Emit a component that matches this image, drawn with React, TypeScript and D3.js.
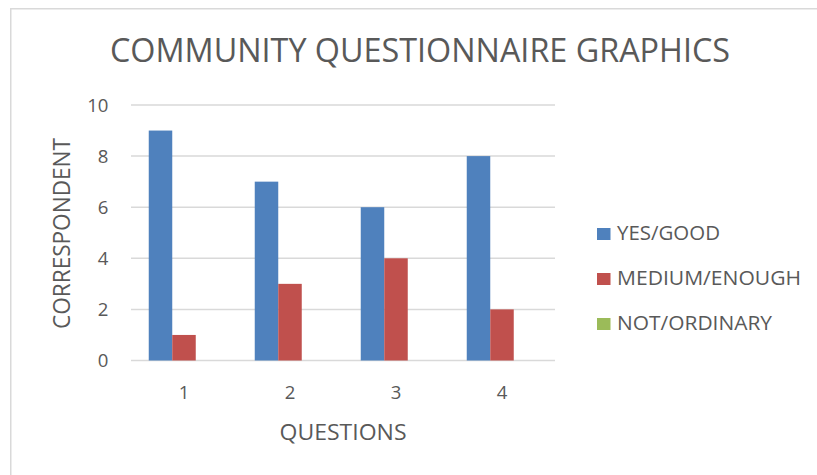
import React from "react";
import { scaleBand, scaleLinear } from "d3";

const categories = ["1", "2", "3", "4"];
const seriesNames = ["YES/GOOD", "MEDIUM/ENOUGH", "NOT/ORDINARY"];
const yesGood = [9, 7, 6, 8];
const mediumEnough = [1, 3, 4, 2];
const notOrdinary = [0, 0, 0, 0];
const yTicks = [0, 2, 4, 6, 8, 10];

const seriesValues = [yesGood, mediumEnough, notOrdinary];
const colors = ["#4F81BD", "#C0504D", "#9BBB59"];
const legendWidths = [103, 184, 155];

const W = 817;
const H = 475;
const font = "'Open Sans', 'Noto Sans', sans-serif";
const textColor = "#595959";

const App: React.FC = () => {
  const x0 = scaleBand<string>().domain(categories).range([131, 555]).padding(0);
  const x1 = scaleBand<string>()
    .domain(seriesNames)
    .range([0, x0.bandwidth()])
    .paddingInner(0)
    .paddingOuter(0.755);
  const y = scaleLinear().domain([0, 10]).range([360.5, 105]);

  return (
    <div style={{ position: "absolute", left: 0, top: 0 }}>
      <svg width={W} height={H} style={{ display: "block", background: "#fff" }}>
        {/* chart border, only left and top visible in the crop */}
        <rect x={10.75} y={8.75} width={W + 20} height={H + 20} fill="#fff" stroke="#D9D9D9" strokeWidth={1.5} />

        <text
          x={420}
          y={61.5}
          textAnchor="middle"
          fontFamily={font}
          fontSize={32.5}
          fill={textColor}
          textLength={620}
          lengthAdjust="spacingAndGlyphs"
        >
          COMMUNITY QUESTIONNAIRE GRAPHICS
        </text>

        {/* gridlines */}
        {yTicks.map((t) => (
          <line key={t} x1={131} x2={555} y1={y(t)} y2={y(t)} stroke="#D9D9D9" strokeWidth={1.5} />
        ))}

        {/* y tick labels */}
        {yTicks.map((t) => (
          <text
            key={t}
            x={108.5}
            y={y(t) + 6.7}
            textAnchor="end"
            fontFamily={font}
            fontSize={18.6}
            fill={textColor}
          >
            {t}
          </text>
        ))}

        {/* bars */}
        {categories.map((c, i) => (
          <g key={c} transform={`translate(${x0(c)},0)`}>
            {seriesNames.map((s, k) => {
              const v = seriesValues[k][i];
              return (
                <rect
                  key={s}
                  x={x1(s)}
                  y={y(v)}
                  width={x1.bandwidth()}
                  height={y(0) - y(v)}
                  fill={colors[k]}
                />
              );
            })}
          </g>
        ))}

        {/* x tick labels */}
        {categories.map((c) => (
          <text
            key={c}
            x={(x0(c) ?? 0) + x0.bandwidth() / 2}
            y={398.5}
            textAnchor="middle"
            fontFamily={font}
            fontSize={18.6}
            fill={textColor}
          >
            {c}
          </text>
        ))}

        <text
          x={343}
          y={439.5}
          textAnchor="middle"
          fontFamily={font}
          fontSize={22.5}
          fill={textColor}
          textLength={127}
          lengthAdjust="spacingAndGlyphs"
        >
          QUESTIONS
        </text>

        <text
          transform="translate(70,233.5) rotate(-90)"
          textAnchor="middle"
          fontFamily={font}
          fontSize={23.5}
          fill={textColor}
          textLength={191}
          lengthAdjust="spacingAndGlyphs"
        >
          CORRESPONDENT
        </text>

        {/* legend */}
        {seriesNames.map((s, k) => (
          <g key={s} transform={`translate(597,${240 + k * 45})`}>
            <rect x={0} y={-12} width={13.5} height={12} fill={colors[k]} />
            <text
              x={20}
              y={0}
              fontFamily={font}
              fontSize={19.6}
              fill={textColor}
              textLength={legendWidths[k]}
              lengthAdjust="spacingAndGlyphs"
            >
              {s}
            </text>
          </g>
        ))}
      </svg>
    </div>
  );
};

export default App;
